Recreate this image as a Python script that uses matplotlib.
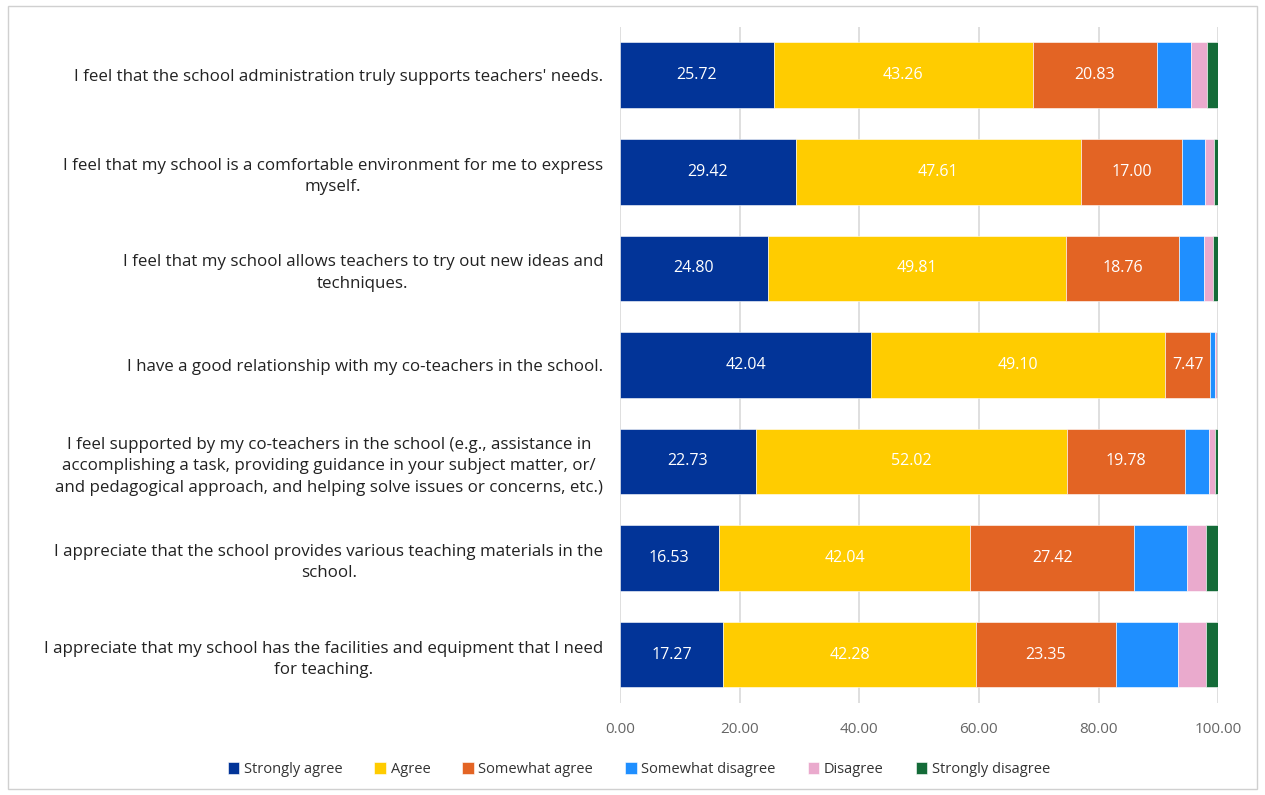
import matplotlib.pyplot as plt
from matplotlib.patches import Rectangle

plt.rcParams['font.family'] = ['Open Sans', 'DejaVu Sans']

# Survey statements (top to bottom)
statements = [
    "I feel that the school administration truly supports teachers' needs.",
    "I feel that my school is a comfortable environment for me to express\nmyself.",
    "I feel that my school allows teachers to try out new ideas and\ntechniques.",
    "I have a good relationship with my co-teachers in the school.",
    "I feel supported by my co-teachers in the school (e.g., assistance in\n"
    "accomplishing a task, providing guidance in your subject matter, or/\n"
    "and pedagogical approach, and helping solve issues or concerns, etc.)",
    "I appreciate that the school provides various teaching materials in the\nschool.",
    "I appreciate that my school has the facilities and equipment that I need\nfor teaching.",
]

responses = ['Strongly agree', 'Agree', 'Somewhat agree',
             'Somewhat disagree', 'Disagree', 'Strongly disagree']

strongly_agree = [25.72, 29.42, 24.80, 42.04, 22.73, 16.53, 17.27]
agree = [43.26, 47.61, 49.81, 49.10, 52.02, 42.04, 42.28]
somewhat_agree = [20.83, 17.00, 18.76, 7.47, 19.78, 27.42, 23.35]
somewhat_disagree = [5.60, 3.70, 4.20, 0.80, 3.90, 8.80, 10.40]
disagree = [2.80, 1.50, 1.60, 0.40, 1.00, 3.20, 4.60]
strongly_disagree = [1.79, 0.77, 0.83, 0.19, 0.57, 2.01, 2.10]

series = [strongly_agree, agree, somewhat_agree,
          somewhat_disagree, disagree, strongly_disagree]
colors = ['#023498', '#FFCC00', '#E36424', '#1F8FFF', '#EAAACD', '#146B38']
labelled = {0, 1, 2}  # only the first three segments carry value labels

fig = plt.figure(figsize=(12.65, 7.95), dpi=100)
ax = fig.add_axes([0.49, 0.116, 0.473, 0.85])

y = list(range(len(statements)))
left = [0.0] * len(statements)
for i, (vals, name, col) in enumerate(zip(series, responses, colors)):
    bars = ax.barh(y, vals, left=left, height=0.68, color=col, label=name,
                   edgecolor='white', linewidth=0.4)
    if i in labelled:
        for b, v in zip(bars, vals):
            ax.text(b.get_x() + b.get_width() / 2, b.get_y() + b.get_height() / 2,
                    f'{v:.2f}', ha='center', va='center', color='white', fontsize=11.5)
    left = [l + v for l, v in zip(left, vals)]

ax.set_ylim(len(statements) - 0.5, -0.5)
ax.set_xlim(0, 100)
ax.set_xticks(range(0, 101, 20))
ax.set_xticklabels([f'{t:.2f}' for t in range(0, 101, 20)])
ax.set_yticks(y)
ax.set_yticklabels(statements, fontsize=12.2, color='#222222',
                   multialignment='center', linespacing=1.45)
ax.tick_params(axis='y', length=0, pad=12)
ax.tick_params(axis='x', length=0, pad=14, labelsize=11, labelcolor='#666666')
ax.grid(axis='x', color='#d9d9d9', linewidth=1.2)
ax.set_axisbelow(True)
for s in ax.spines.values():
    s.set_visible(False)

fig.legend(*ax.get_legend_handles_labels(), loc='center', ncol=6,
           bbox_to_anchor=(0.505, 0.032), frameon=False, fontsize=10.5,
           handlelength=0.8, handleheight=0.8, handletextpad=0.3,
           columnspacing=2.2, labelcolor='#333333')

fig.patches.append(Rectangle((0.006, 0.008), 0.988, 0.984, transform=fig.transFigure,
                             fill=False, edgecolor='#d0d0d0', linewidth=1))

fig.savefig('out.png', dpi=100)
